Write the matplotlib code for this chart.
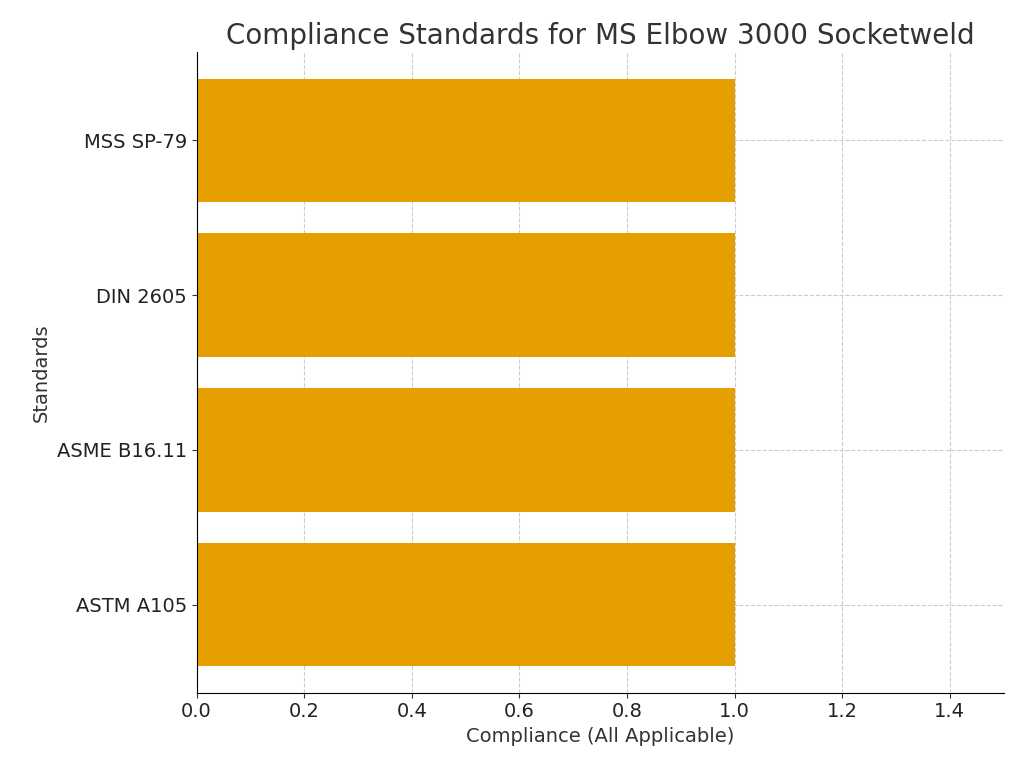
import matplotlib
matplotlib.use("Agg")
import matplotlib.pyplot as plt

standards = ["ASTM A105", "ASME B16.11", "DIN 2605", "MSS SP-79"]
compliance = [1, 1, 1, 1]

fig = plt.figure(figsize=(10.24, 7.68), dpi=100)
ax = fig.add_axes([0.192, 0.098, 0.788, 0.834])
ax.barh(standards, compliance, height=0.8, color="#E69F00", zorder=2)
ax.set_xlim(0, 1.5)
ax.set_ylim(-0.57, 3.57)
ax.grid(True, linestyle="--", color="#cccccc", linewidth=0.8, zorder=0)
for s in ["top", "right"]:
    ax.spines[s].set_visible(False)
ax.tick_params(labelsize=14, colors="#333333", labelcolor="#222222")
ax.set_xlabel("Compliance (All Applicable)", fontsize=14, color="#333333")
ax.set_ylabel("Standards", fontsize=14, color="#333333")
ax.set_title("Compliance Standards for MS Elbow 3000 Socketweld", fontsize=20, color="#333333")
fig.savefig("out.png", dpi=100)
